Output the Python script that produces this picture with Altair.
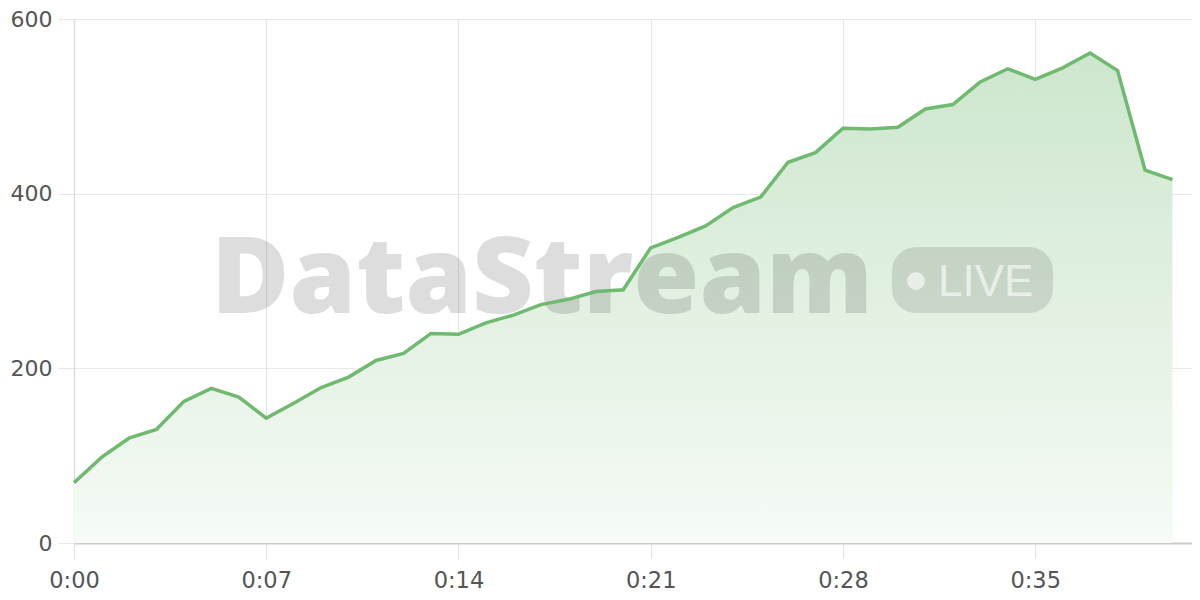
import altair as alt
import pandas as pd

# ---- data ----
seconds = list(range(41))
values = [69, 98, 120, 130, 162, 177, 167, 143, 160, 178,
          190, 209, 217, 240, 239, 252, 261, 273, 279, 288,
          290, 338, 350, 363, 384, 396, 436, 447, 475, 474,
          476, 497, 502, 528, 543, 531, 544, 561, 541, 427, 416]
x_ticks = [0, 7, 14, 21, 28, 35]
y_ticks = [0, 200, 400, 600]
brand = ["DataStream"]
badge = ["LIVE"]

df = pd.DataFrame({"t": seconds, "v": values})

W, H = 1118, 524
LINE = "#70ba70"
FONT = "DejaVu Sans"

x_enc = alt.X(
    "t:Q",
    scale=alt.Scale(domain=[0, 40.71], nice=False, zero=False),
    axis=alt.Axis(
        values=x_ticks,
        labelExpr="floor(datum.value/60) + ':' + (datum.value % 60 < 10 ? '0' : '') + (datum.value % 60)",
        title=None,
        grid=True,
        gridColor="#e6e6e6",
        tickColor="#e3e3e3",
        tickSize=15,
        domainColor="#cccccc",
        domainWidth=2,
        labelPadding=11,
        labelFlush=False,
        labelFontSize=22.5,
        labelFont=FONT,
        labelColor="#555555",
    ),
)
y_enc = alt.Y(
    "v:Q",
    scale=alt.Scale(domain=[0, 600], nice=False),
    axis=alt.Axis(
        values=y_ticks,
        title=None,
        grid=True,
        gridColor="#e8e8e8",
        tickColor="#e6e6e6",
        tickSize=16,
        domainColor="#dddddd",
        domainWidth=1.5,
        labelPadding=6,
        labelFlush=False,
        labelFontSize=22,
        labelFont=FONT,
        labelColor="#555555",
    ),
)

base = alt.Chart(df)

area = base.mark_area(
    line=False,
    color=alt.Gradient(
        gradient="linear",
        stops=[
            alt.GradientStop(color="#cde6cd", offset=0),
            alt.GradientStop(color="#f6fbf6", offset=1),
        ],
        x1=0, x2=0, y1=0, y2=1,
    ),
).encode(x=x_enc, y=y_enc)

line = base.mark_line(color=LINE, strokeWidth=3.5).encode(x="t:Q", y="v:Q")

wm_df = pd.DataFrame({"label": brand})
badge_df = pd.DataFrame({"label": badge})

wm_text = alt.Chart(wm_df).mark_text(
    font="Open Sans", fontWeight=800, fontSize=107,
    align="left", baseline="alphabetic", color="#000000", opacity=0.13,
).encode(text="label:N", x=alt.value(137), y=alt.value(294))

badge_rect = alt.Chart(badge_df).mark_rect(
    color="#000000", opacity=0.11, cornerRadius=24,
).encode(x=alt.value(818), x2=alt.value(979), y=alt.value(228), y2=alt.value(294))

badge_dot = alt.Chart(badge_df).mark_circle(
    color="#ffffff", opacity=0.6, size=320,
).encode(x=alt.value(842), y=alt.value(262))

badge_text = alt.Chart(badge_df).mark_text(
    font="Liberation Sans", fontSize=44, align="left", baseline="alphabetic",
    color="#ffffff", opacity=0.6,
).encode(text="label:N", x=alt.value(864), y=alt.value(277))

chart = alt.layer(area, wm_text, badge_rect, badge_dot, badge_text, line).properties(
    width=W,
    height=H,
    autosize=alt.AutoSizeParams(type="none"),
    padding={"left": 66, "top": 11, "right": 0, "bottom": 49},
    background="#ffffff",
).configure_view(stroke=None)

chart.save("out.html", embed_options={"renderer": "svg", "actions": False})
